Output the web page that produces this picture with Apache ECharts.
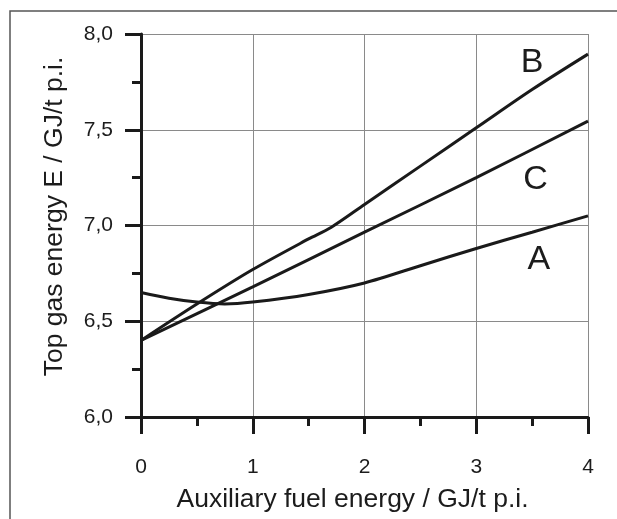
<!DOCTYPE html>
<html>
<head>
<meta charset="utf-8">
<style>
html,body{margin:0;padding:0;background:#fff;overflow:hidden;}
#chart{width:617px;height:519px;}
</style>
<script src="https://cdn.jsdelivr.net/npm/echarts@6/dist/echarts.min.js"></script>
</head>
<body>
<div id="chart"></div>
<script>
// Data
const xTicks = [0, 1, 2, 3, 4];
const yTicks = ['6,0', '6,5', '7,0', '7,5', '8,0'];
const xTitle = 'Auxiliary fuel energy / GJ/t p.i.';
const yTitle = 'Top gas energy E / GJ/t p.i.';

const seriesNames = ['A', 'B', 'C'];
const aX = [0, 0.25, 0.5, 0.75, 1, 1.5, 2, 2.5, 3, 3.5, 4];
const aY = [6.65, 6.62, 6.60, 6.59, 6.60, 6.64, 6.70, 6.79, 6.88, 6.965, 7.05];
const bX = [0, 0.5, 1, 1.5, 1.7, 2, 2.5, 3, 3.5, 4];
const bY = [6.40, 6.59, 6.77, 6.93, 6.99, 7.11, 7.31, 7.51, 7.71, 7.895];
const cX = [0, 1, 2, 3, 4];
const cY = [6.40, 6.68, 6.965, 7.25, 7.545];

// label anchor positions (data coordinates)
const labelAnchors = { A: [3.56, 6.82], B: [3.50, 7.85], C: [3.53, 7.24] };

const pair = (xs, ys) => xs.map((x, i) => [x, ys[i]]);
const seriesData = { A: pair(aX, aY), B: pair(bX, bY), C: pair(cX, cY) };

const FONT = '"Liberation Sans", Arial, sans-serif';
const chart = echarts.init(document.getElementById('chart'), null, { renderer: 'canvas' });

chart.setOption({
  animation: false,
  backgroundColor: '#fff',
  textStyle: { fontFamily: FONT },
  grid: { left: 141, right: 29, top: 34, bottom: 102, containLabel: false },
  xAxis: {
    type: 'value', min: 0, max: 4, interval: 1,
    name: xTitle, nameLocation: 'middle', nameGap: 69,
    nameTextStyle: { fontSize: 26.5, color: '#1c1c1c', fontFamily: FONT, padding: [0, 24, 0, 0] },
    axisLine: { show: true, onZero: false, lineStyle: { color: '#1a1a1a', width: 3 } },
    axisTick: { show: true, inside: false, length: 17, lineStyle: { color: '#1a1a1a', width: 3 } },
    minorTick: { show: true, splitNumber: 2, length: 9, lineStyle: { color: '#1a1a1a', width: 3 } },
    axisLabel: { margin: 40, fontSize: 21, color: '#1c1c1c', fontFamily: FONT,
      formatter: v => String(xTicks[Math.round(v)]) },
    splitLine: { show: true, lineStyle: { color: '#8a8a8a', width: 1 } }
  },
  yAxis: {
    type: 'value', min: 6, max: 8, interval: 0.5,
    name: yTitle, nameLocation: 'middle', nameGap: 73, nameRotate: 90,
    nameTextStyle: { fontSize: 26.5, color: '#1c1c1c', fontFamily: FONT, padding: [0, 0, 0, 18] },
    axisLine: { show: true, onZero: false, lineStyle: { color: '#1a1a1a', width: 3 } },
    axisTick: { show: true, inside: false, length: 16, lineStyle: { color: '#1a1a1a', width: 3 } },
    minorTick: { show: true, splitNumber: 2, length: 9, lineStyle: { color: '#1a1a1a', width: 3 } },
    axisLabel: { margin: 28, fontSize: 21, color: '#1c1c1c', fontFamily: FONT,
      formatter: v => yTicks[Math.round((v - 6) / 0.5)] },
    splitLine: { show: true, lineStyle: { color: '#8a8a8a', width: 1 } }
  },
  series: seriesNames.map(name => ({
    name: name,
    type: 'line',
    smooth: 0.3,
    showSymbol: false,
    symbol: 'none',
    clip: false,
    data: seriesData[name],
    lineStyle: { color: '#1a1a1a', width: 3 },
    markPoint: {
      symbol: 'circle', symbolSize: 1,
      itemStyle: { color: 'rgba(0,0,0,0)' },
      label: { show: true, position: 'inside', formatter: name,
        fontSize: 34, color: '#1c1c1c', fontFamily: FONT },
      data: [{ coord: labelAnchors[name] }]
    }
  })),
  graphic: [
    { type: 'rect', shape: { x: 10, y: 11, width: 1000, height: 1000 },
      style: { fill: 'none', stroke: '#555', lineWidth: 1.5 }, silent: true }
  ]
});
</script>
</body>
</html>
